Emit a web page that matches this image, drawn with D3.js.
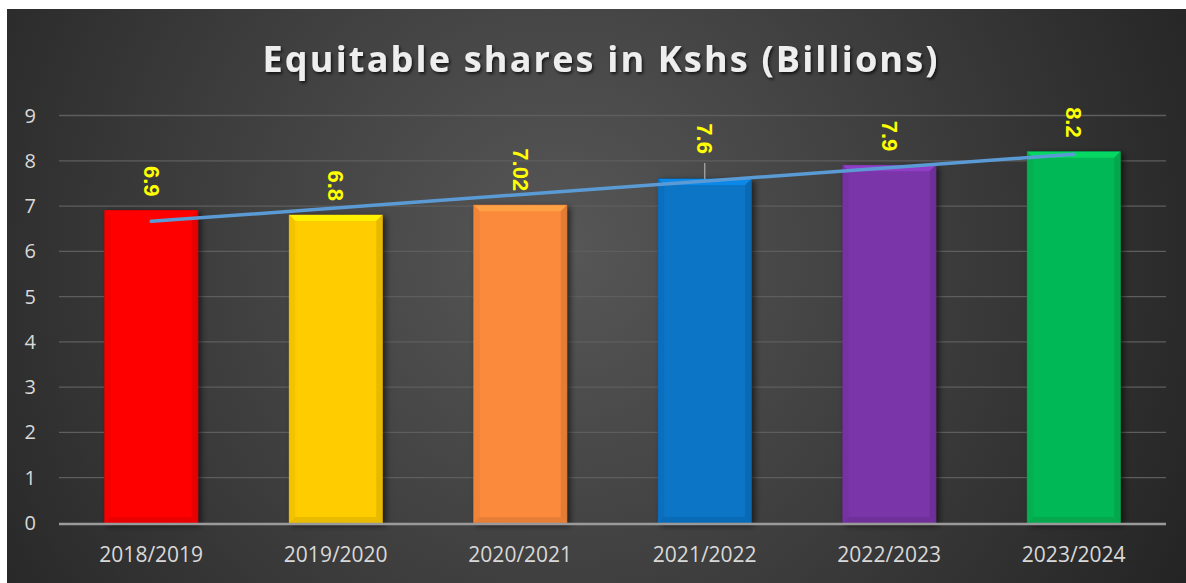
<!DOCTYPE html>
<html>
<head>
<meta charset="utf-8">
<script src="https://cdn.jsdelivr.net/npm/d3@7"></script>
<style>
  body { margin: 0; background: #fff; }
  svg { display: block; }
</style>
</head>
<body>
<div id="chart"></div>
<script>
const title = 'Equitable shares in Kshs (Billions)'
const years = ['2018/2019', '2019/2020', '2020/2021', '2021/2022', '2022/2023', '2023/2024']
const shares = [6.9, 6.8, 7.02, 7.6, 7.9, 8.2]
const barColors = ['#ff0000', '#ffcc00', '#fb8a3c', '#0a74c6', '#7a35a8', '#06b854']
const yTicks = [0, 1, 2, 3, 4, 5, 6, 7, 8, 9]

const width = 1186
const height = 583

const svg = d3.select('#chart').append('svg')
  .attr('width', width)
  .attr('height', height)

const defs = svg.append('defs')

const bg = defs.append('radialGradient')
  .attr('id', 'bg')
  .attr('gradientUnits', 'userSpaceOnUse')
  .attr('cx', 560).attr('cy', 250).attr('r', 720)
bg.append('stop').attr('offset', '0%').attr('stop-color', '#575757')
bg.append('stop').attr('offset', '55%').attr('stop-color', '#3b3b3b')
bg.append('stop').attr('offset', '100%').attr('stop-color', '#232323')

const shadow = defs.append('filter').attr('id', 'barShadow')
  .attr('x', '-20%').attr('y', '-10%').attr('width', '150%').attr('height', '130%')
shadow.append('feDropShadow')
  .attr('dx', 3).attr('dy', 2).attr('stdDeviation', 3)
  .attr('flood-color', '#000').attr('flood-opacity', 0.6)

const titleShadow = defs.append('filter').attr('id', 'titleShadow')
titleShadow.append('feDropShadow')
  .attr('dx', 1.5).attr('dy', 2).attr('stdDeviation', 1.5)
  .attr('flood-color', '#000').attr('flood-opacity', 0.7)

// chart background
svg.append('rect')
  .attr('x', 7).attr('y', 9)
  .attr('width', width - 7).attr('height', height - 9)
  .attr('fill', 'url(#bg)')

svg.append('text')
  .attr('x', 600).attr('y', 72)
  .attr('text-anchor', 'middle')
  .attr('font-family', 'Open Sans, sans-serif')
  .attr('font-weight', 'bold')
  .attr('font-size', 36)
  .attr('fill', '#eeeeee')
  .attr('textLength', 675)
  .attr('lengthAdjust', 'spacing')
  .attr('filter', 'url(#titleShadow)')
  .text(title)

const x = d3.scaleBand()
  .domain(years)
  .range([59, 1166])
  .paddingInner(0.496)
  .paddingOuter(0.248)

const y = d3.scaleLinear()
  .domain([0, 9])
  .range([523, 115.5])

const cx = i => x(years[i]) + x.bandwidth() / 2

// gridlines
svg.append('g')
  .selectAll('line')
  .data(yTicks.filter(d => d > 0))
  .enter()
  .append('line')
  .attr('x1', 59).attr('x2', 1166)
  .attr('y1', d => y(d)).attr('y2', d => y(d))
  .attr('stroke', '#5e5e5e')
  .attr('stroke-width', 1.3)

// y tick labels
svg.append('g')
  .selectAll('text')
  .data(yTicks)
  .enter()
  .append('text')
  .attr('x', 36)
  .attr('y', d => y(d))
  .attr('dy', '0.35em')
  .attr('text-anchor', 'end')
  .attr('font-family', 'Open Sans, sans-serif')
  .attr('font-size', 20)
  .attr('fill', '#d9d9d9')
  .text(d => d)

// bars with a bevel
const bevel = 6
const bars = svg.append('g')
  .selectAll('g')
  .data(shares)
  .enter()
  .append('g')

bars.append('rect')
  .attr('x', (d, i) => x(years[i]))
  .attr('y', d => y(d))
  .attr('width', x.bandwidth())
  .attr('height', d => y(0) - y(d))
  .attr('fill', (d, i) => barColors[i])
  .attr('stroke', (d, i) => d3.color(barColors[i]).darker(0.6))
  .attr('stroke-width', 0.8)
  .attr('filter', 'url(#barShadow)')

function poly(pts) {
  return pts.map(p => p.join(',')).join(' ')
}

bars.append('polygon')
  .attr('points', (d, i) => {
    const x0 = x(years[i]), x1 = x0 + x.bandwidth(), y0 = y(d)
    return poly([[x0, y0], [x1, y0], [x1 - bevel, y0 + bevel], [x0 + bevel, y0 + bevel]])
  })
  .attr('fill', (d, i) => d3.color(barColors[i]).brighter(0.45))

bars.append('polygon')
  .attr('points', (d, i) => {
    const x0 = x(years[i]), y0 = y(d), y1 = y(0)
    return poly([[x0, y0], [x0 + bevel, y0 + bevel], [x0 + bevel, y1 - bevel], [x0, y1]])
  })
  .attr('fill', (d, i) => d3.color(barColors[i]).darker(0.12))

bars.append('polygon')
  .attr('points', (d, i) => {
    const x1 = x(years[i]) + x.bandwidth(), y0 = y(d), y1 = y(0)
    return poly([[x1, y0], [x1 - bevel, y0 + bevel], [x1 - bevel, y1 - bevel], [x1, y1]])
  })
  .attr('fill', (d, i) => d3.color(barColors[i]).darker(0.28))

bars.append('polygon')
  .attr('points', (d, i) => {
    const x0 = x(years[i]), x1 = x0 + x.bandwidth(), y1 = y(0)
    return poly([[x0, y1], [x1, y1], [x1 - bevel, y1 - bevel], [x0 + bevel, y1 - bevel]])
  })
  .attr('fill', (d, i) => d3.color(barColors[i]).darker(0.25))

// x axis line
svg.append('line')
  .attr('x1', 59).attr('x2', 1166)
  .attr('y1', y(0) + 1).attr('y2', y(0) + 1)
  .attr('stroke', '#9a9a9a')
  .attr('stroke-width', 2.5)

// category labels
svg.append('g')
  .selectAll('text')
  .data(years)
  .enter()
  .append('text')
  .attr('x', d => x(d) + x.bandwidth() / 2)
  .attr('y', 562)
  .attr('text-anchor', 'middle')
  .attr('font-family', 'Open Sans, sans-serif')
  .attr('font-size', 21)
  .attr('fill', '#d9d9d9')
  .text(d => d)

// linear trendline (least squares over category index)
const n = shares.length
const xs = d3.range(1, n + 1)
const mx = d3.mean(xs), my = d3.mean(shares)
const slope = d3.sum(xs, (v, i) => (v - mx) * (shares[i] - my)) / d3.sum(xs, v => (v - mx) * (v - mx))
const icpt = my - slope * mx
const ends = [0, n - 1]

const line = d3.line()
  .x(i => cx(i))
  .y(i => y(icpt + slope * xs[i]))

svg.append('path')
  .datum(ends)
  .attr('d', line)
  .attr('fill', 'none')
  .attr('stroke', '#5b9bd5')
  .attr('stroke-width', 3.5)
  .attr('stroke-linecap', 'round')

// data labels, rotated; the 2021/2022 label sits higher with a leader line
const labelGap = 14
const lifted = { 3: 11 }

svg.append('g')
  .selectAll('line')
  .data(shares.map((d, i) => [d, i]).filter(p => lifted[p[1]]))
  .enter()
  .append('line')
  .attr('x1', p => cx(p[1]))
  .attr('x2', p => cx(p[1]))
  .attr('y1', p => y(p[0]) - labelGap - lifted[p[1]] + 9)
  .attr('y2', p => y(p[0]))
  .attr('stroke', '#a6a6a6')
  .attr('stroke-width', 1.3)

svg.append('g')
  .selectAll('text')
  .data(shares)
  .enter()
  .append('text')
  .attr('transform', (d, i) => {
    const ly = y(d) - labelGap - (lifted[i] || 0)
    return 'translate(' + cx(i) + ',' + ly + ') rotate(90)'
  })
  .attr('text-anchor', 'end')
  .attr('dy', '0.35em')
  .attr('font-family', 'Liberation Sans, Arial, sans-serif')
  .attr('font-weight', 'bold')
  .attr('font-size', 22)
  .attr('fill', '#ffff00')
  .text(d => d)
</script>
</body>
</html>
